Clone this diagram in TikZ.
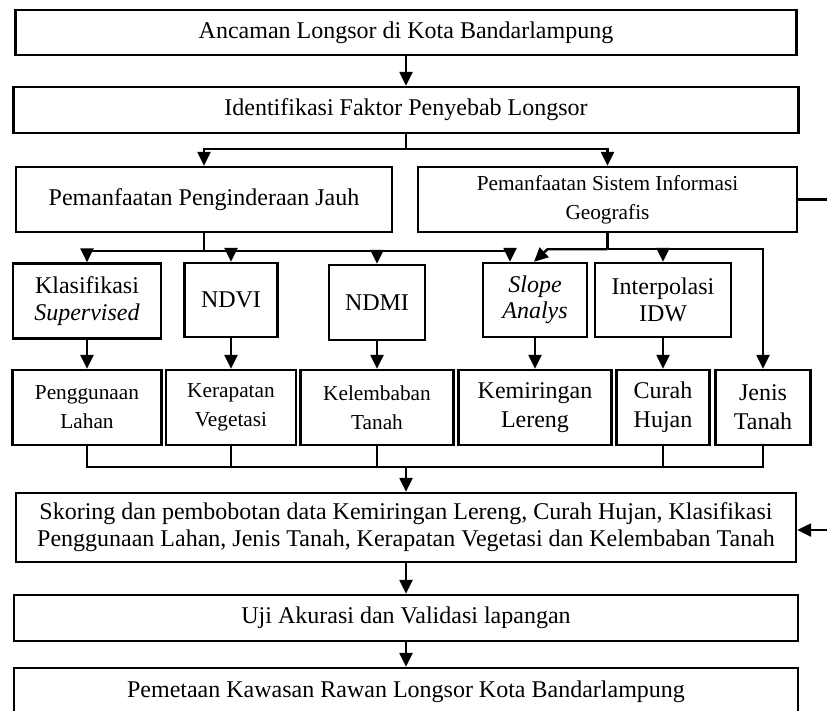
\documentclass[tikz,border=0pt]{standalone}
\usepackage{fontspec}
\setmainfont{Liberation Serif}
\usetikzlibrary{arrows.meta}
\newcommand{\bigf}{\fontsize{24}{26.5}\selectfont}
\newcommand{\smallf}{\fontsize{21.3}{29}\selectfont}
\begin{document}
\begin{tikzpicture}[x=1pt,y=-1pt,
  box/.style={draw,line width=2.4pt,inner sep=0pt,align=center,font=\bigf},
  sbox/.style={box,font=\smallf},
  ln/.style={line width=2.4pt},
  arr/.style={line width=2.4pt,-{Triangle[length=14pt,width=13pt]}}]
\useasboundingbox (0,0) rectangle (827,710);

% main column
\node[box,minimum width=781pt,minimum height=45pt] (anc) at (406,32.5) {Ancaman Longsor di Kota Bandarlampung};
\node[box,minimum width=785pt,minimum height=46pt] (ide) at (406,110) {Identifikasi Faktor Penyebab Longsor};

% second row
\node[box,minimum width=376pt,minimum height=65pt] (ppj) at (204,199.5) {Pemanfaatan Penginderaan Jauh};
\node[sbox,minimum width=379pt,minimum height=65pt] (psig) at (607.5,199.5) {Pemanfaatan Sistem Informasi\\Geografis};

% third row
\node[box,minimum width=148pt,minimum height=75pt] (kla) at (87,301) {Klasifikasi\\\textit{Supervised}};
\node[box,minimum width=93pt,minimum height=74pt] (ndvi) at (231,300) {NDVI};
\node[box,minimum width=96pt,minimum height=75pt] (ndmi) at (377,302.5) {NDMI};
\node[box,minimum width=104pt,minimum height=74pt] (slope) at (535,300) {\textit{Slope}\\\textit{Analys}};
\node[box,minimum width=136pt,minimum height=74pt] (idw) at (663,300) {Interpolasi\\IDW};

% fourth row
\node[sbox,minimum width=149pt,minimum height=75pt] (pl) at (87,407.5) {Penggunaan\\Lahan};
\node[sbox,minimum width=130pt,minimum height=75pt] (kv) at (231,407.5) {Kerapatan\\Vegetasi};
\node[sbox,minimum width=153pt,minimum height=75pt] (kt) at (377,407.5) {Kelembaban\\Tanah};
\node[box,minimum width=153pt,minimum height=75pt,font=\fontsize{24}{29}\selectfont] (kl) at (535,407.5) {Kemiringan\\Lereng};
\node[box,minimum width=93pt,minimum height=75pt,font=\fontsize{24}{29}\selectfont] (ch) at (663,407.5) {Curah\\Hujan};
\node[box,minimum width=95pt,minimum height=75pt,font=\fontsize{24}{29}\selectfont] (jt) at (763,407.5) {Jenis\\Tanah};

% lower column
\node[box,minimum width=780pt,minimum height=69pt,font=\fontsize{24}{27}\selectfont] (sko) at (406,527.5) {Skoring dan pembobotan data Kemiringan Lereng, Curah Hujan, Klasifikasi\\Penggunaan Lahan, Jenis Tanah, Kerapatan Vegetasi dan Kelembaban Tanah};
\node[box,minimum width=784pt,minimum height=46pt] (uji) at (406,618) {Uji Akurasi dan Validasi lapangan};
\node[box,minimum width=784pt,minimum height=48pt] (pem) at (406,692) {Pemetaan Kawasan Rawan Longsor Kota Bandarlampung};

% connectors
\draw[arr] (anc.south) -- (anc.south |- ide.north);
\draw[ln] (ide.south) -- ++(0,15) coordinate (j1);
\draw[arr] (j1) -| (ppj.north);
\draw[arr] (j1) -| (psig.north);

\draw[ln] (ppj.south) -- ++(0,18) coordinate (j2);
\draw[arr] (j2) -| (kla.north);
\draw[arr] (j2) -| (ndvi.north);
\draw[arr] (j2) -| (ndmi.north);
\draw[arr] (j2) -| ([xshift=-25pt]slope.north);

\draw[ln] (psig.south) -- ++(0,16) coordinate (j3);
\draw[arr] (j3) -| (idw.north);
\draw[arr] (j3) -| (jt.north);
\draw[arr] (j3) -- ++(-60,0) -- ([xshift=-1pt]slope.north);

\draw[arr] (kla.south) -- (kla.south |- pl.north);
\draw[arr] (ndvi.south) -- (ndvi.south |- kv.north);
\draw[arr] (ndmi.south) -- (ndmi.south |- kt.north);
\draw[arr] (slope.south) -- (slope.south |- kl.north);
\draw[arr] (idw.south) -- (idw.south |- ch.north);

\coordinate (c) at (406,467);
\draw[ln] (pl.south) -- (pl.south |- c) -- (jt.south |- c) -- (jt.south);
\draw[ln] (kv.south) -- (kv.south |- c);
\draw[ln] (kt.south) -- (kt.south |- c);
\draw[ln] (ch.south) -- (ch.south |- c);
\draw[arr] (c) -- (c |- sko.north);

\draw[arr] (sko.south) -- (sko.south |- uji.north);
\draw[arr] (uji.south) -- (uji.south |- pem.north);

\coordinate (r1) at (827,199.5);
\draw[ln] (psig.east) -- (r1);
\coordinate (r2) at (827,530);
\draw[arr] (r2) -- (sko.east |- r2);
\end{tikzpicture}
\end{document}
